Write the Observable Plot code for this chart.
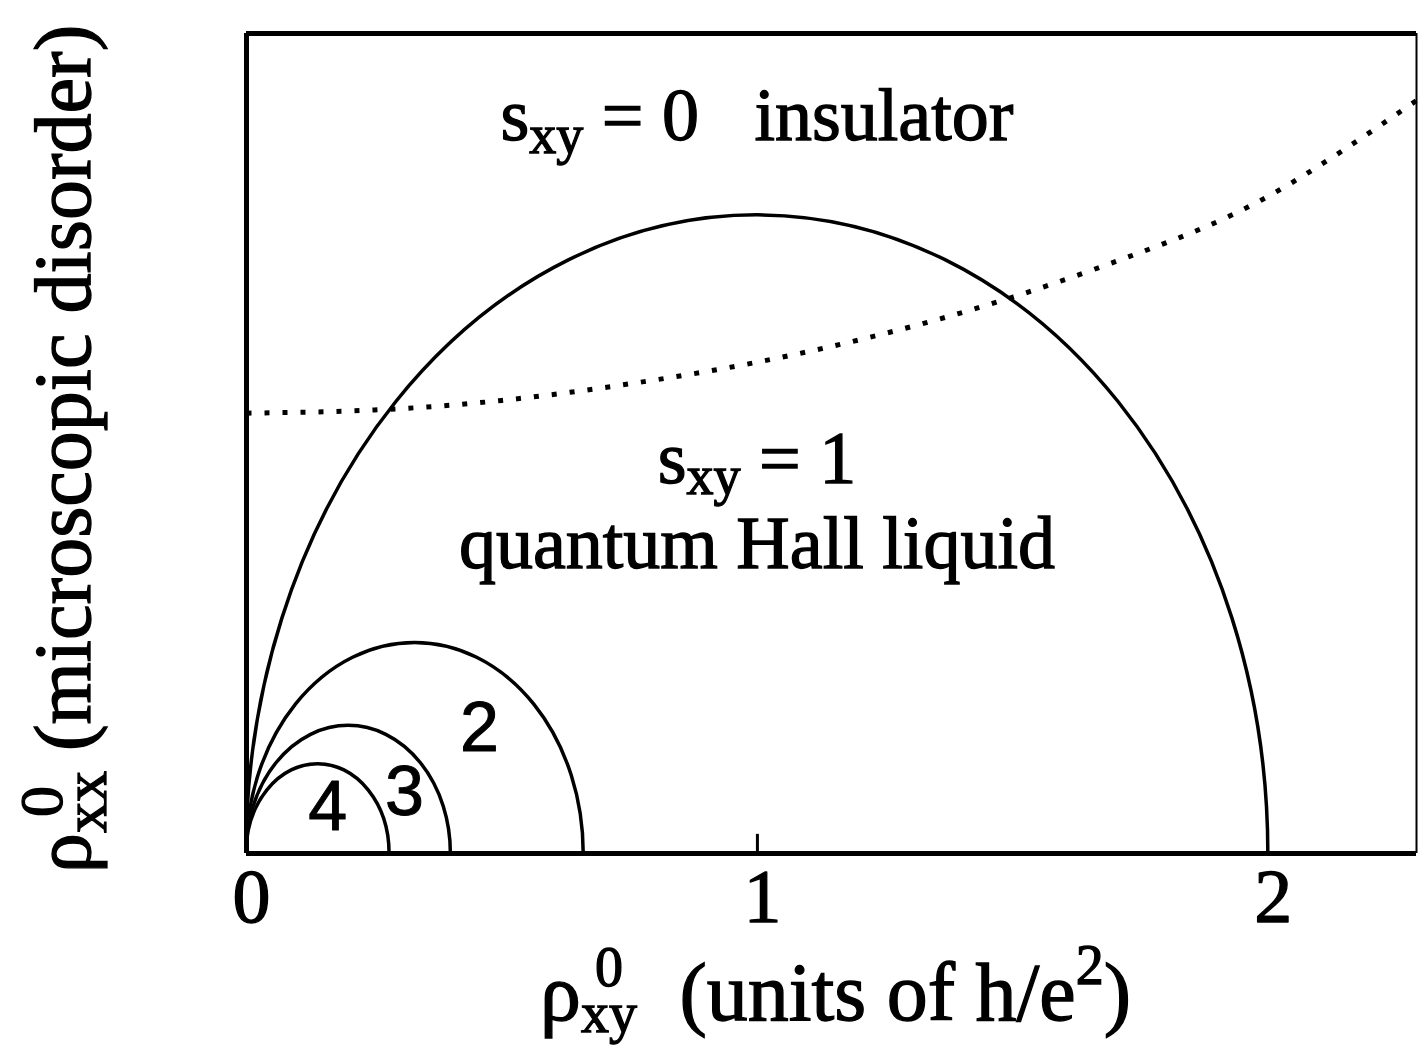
<!DOCTYPE html>
<html>
<head>
<meta charset="utf-8">
<script src="https://cdn.jsdelivr.net/npm/d3@7"></script>
<script src="https://cdn.jsdelivr.net/npm/@observablehq/plot@0.6"></script>
<style>
  html, body { margin: 0; padding: 0; background: #fff; }
  #chart { width: 1418px; height: 1048px; overflow: hidden; }
  svg text { fill: #000; }
</style>
</head>
<body>
<div id="chart"></div>
<script>
// Quantized Hall plateaus and where each dome meets the ρxy axis (units of h/e²)
const plateaus = [1, 2, 3, 4];
const domeEnds = [2.0, 0.66, 0.40, 0.28];

// Dotted trajectory across the phase diagram
const pathX = [0, 0.25, 0.5, 0.75, 1.0, 1.25, 1.5, 1.75, 2.0, 2.29];
const pathY = [0.690, 0.695, 0.710, 0.736, 0.770, 0.815, 0.872, 0.942, 1.030, 1.180];

// Axis ticks
const xTicks = [0, 1, 2];

// Plateau numbers written inside the small domes
const domeLabels = ["2", "3", "4"];
const domeLabelX = [0.456, 0.309, 0.159];
const domeLabelY = [0.196, 0.096, 0.072];

// Phase names
const phaseText = ["insulator", "quantum Hall liquid"];
const phaseSxy = ["0", "1"];

const xMax = 2.29, yMax = 1.285;
const serif = "'Liberation Serif', 'Times New Roman', serif";
const sans = "'Liberation Sans', Arial, sans-serif";

const trajectory = pathX.map((x, i) => ({x, y: pathY[i]}));
const domeLabelData = domeLabels.map((t, i) => ({t, x: domeLabelX[i], y: domeLabelY[i]}));

// Each dome is a semicircle in data units, spanning [0, end] on the ρxy axis
function domes(index, scales) {
  const {x, y} = scales;
  const g = d3.create("svg:g").attr("fill", "none").attr("stroke", "#000").attr("stroke-width", 3.5);
  domeEnds.forEach((end, i) => {
    const x0 = x(0), x1 = x(end), y0 = y(0);
    const rx = (x1 - x0) / 2, ry = y(0) - y(end / 2);
    g.append("path")
      .attr("data-plateau", plateaus[i])
      .attr("d", `M${x0},${y0}A${rx},${ry} 0 0 1 ${x1},${y0}`);
  });
  return g.node();
}

// Write a run of text pieces (with sub/superscripts) as tspans
function rich(g, px, py, anchor, size, parts, rotate) {
  const t = g.append("text")
    .attr("x", px).attr("y", py)
    .attr("text-anchor", anchor)
    .attr("font-family", serif)
    .attr("font-size", size)
    .attr("stroke", "#000").attr("stroke-width", 1.3)
    .style("white-space", "pre");
  if (rotate) t.attr("transform", `rotate(-90 ${px} ${py})`);
  for (const p of parts) {
    const s = t.append("tspan").text(p.t);
    if (p.size) s.attr("font-size", p.size);
    if (p.dx) s.attr("dx", p.dx);
    if (p.dy) s.attr("dy", p.dy);
  }
  return t;
}

// Phase annotations positioned in data coordinates
function phaseNotes(index, scales) {
  const {x, y} = scales;
  const g = d3.create("svg:g");
  rich(g, x(1.0), y(1.118), "middle", 74, [
    {t: "s"}, {t: "xy", size: 54, dy: 13}, {t: " = " + phaseSxy[0] + "   " + phaseText[0], dy: -13}
  ]);
  rich(g, x(1.0), y(0.580), "middle", 74, [
    {t: "s"}, {t: "xy", size: 54, dy: 11}, {t: " = " + phaseSxy[1], dy: -11}
  ]);
  rich(g, x(1.0), y(0.447), "middle", 74, [{t: phaseText[1]}]);
  return g.node();
}

// Axis titles with ρ⁰ and stacked subscripts
function axisTitles(index, scales, values, dims) {
  const g = d3.create("svg:g");
  // horizontal axis title
  rich(g, 540, 1020, "start", 82, [
    {t: "ρ"},
    {t: "xy", size: 56, dy: 12},
    {t: "0", size: 56, dx: -42, dy: -46},
    {t: " (units of h/e", dx: 36, dy: 34},
    {t: "2", size: 56, dy: -36},
    {t: ")", dy: 36}
  ]);
  // vertical axis title
  rich(g, 90, 873, "start", 80, [
    {t: "ρ"},
    {t: "xx", size: 62, dy: 16},
    {t: "0", size: 62, dx: -46, dy: -44},
    {t: " (microscopic disorder)", dx: 15, dy: 28}
  ], true);
  return g.node();
}

const chart = Plot.plot({
  width: 1418,
  height: 1048,
  marginLeft: 246,
  marginRight: 2,
  marginTop: 33,
  marginBottom: 195,
  x: {domain: [0, xMax], axis: null},
  y: {domain: [0, yMax], axis: null},
  style: {background: "#fff", color: "#000", fontFamily: serif, overflow: "visible"},
  marks: [
    // frame
    Plot.ruleY([0], {strokeWidth: 5, stroke: "#000"}),
    Plot.ruleY([yMax], {strokeWidth: 5, stroke: "#000"}),
    Plot.ruleX([0], {strokeWidth: 5, stroke: "#000"}),
    Plot.ruleX([xMax], {strokeWidth: 2, stroke: "#000"}),
    // inward tick at 1
    Plot.ruleX([1], {y1: 0, y2: 0.03, strokeWidth: 3, stroke: "#000"}),
    // tick labels
    Plot.text(xTicks, {
      x: d => d, y: 0, text: d => String(d),
      dx: 5, dy: 15, lineAnchor: "top", fontSize: 76, fontFamily: serif,
      stroke: "#000", strokeWidth: 1.3, fill: "#000"
    }),
    // dotted trajectory
    Plot.line(trajectory, {
      x: "x", y: "y", curve: "natural",
      stroke: "#000", strokeWidth: 5, strokeDasharray: "5 13", strokeLinecap: "butt"
    }),
    // plateau domes
    domes,
    // plateau numbers
    Plot.text(domeLabelData, {
      x: "x", y: "y", text: "t",
      fontSize: 70, fontFamily: sans, lineAnchor: "middle",
      fill: "#000", stroke: "#000", strokeWidth: 1
    }),
    phaseNotes,
    axisTitles
  ]
});

document.getElementById("chart").appendChild(chart);
</script>
</body>
</html>
